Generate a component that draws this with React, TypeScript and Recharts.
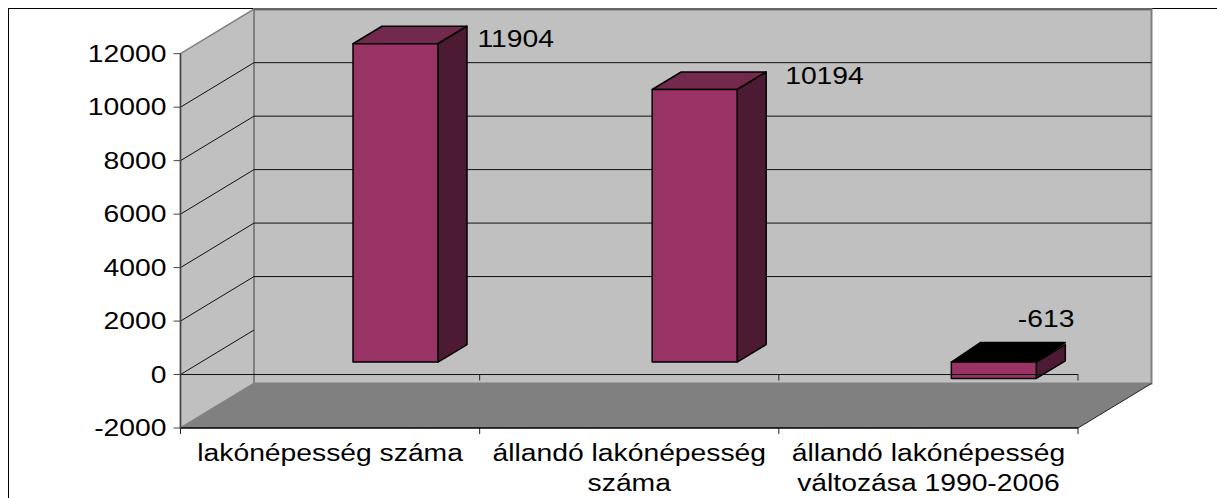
import { BarChart, Bar, XAxis, YAxis, ReferenceLine, LabelList, usePlotArea } from "recharts";

const categories = ["lakónépesség száma", "állandó lakónépesség\nszáma", "állandó lakónépesség\nváltozása 1990-2006"];
const values = [11904, 10194, -613];
const yTicks = [-2000, 0, 2000, 4000, 6000, 8000, 10000, 12000];
const gridValues = [2000, 4000, 6000, 8000, 10000];

const data = categories.map((name, i) => ({ name, value: values[i] }));

const Y_MIN = -2000;
const Y_MAX = 12000;
const FONT = "'Liberation Sans', Arial, sans-serif";
const FONT_SIZE = 23;
const STRETCH = 1.23; // the original picture is stretched sideways

// 3d offsets
const BACK_DX = 73.5;
const BACK_DY = -44.5;
const BAR_DX = 65.5;
const BAR_DY = -12.5;
const BAR_DEPTH_X = 29;
const BAR_DEPTH_Y = -17.5;

// data label nudges from the bar's own corner
const labelDx = [105, 113.5, 47];
const labelDy = [-9, -18, -48];

const pts = (list: number[][]) => list.map((p) => p.join(",")).join(" ");

function Walls() {
  const plot = usePlotArea();
  if (!plot) return null;
  const { x, y, width, height } = plot;
  const yOf = (v: number) => y + ((Y_MAX - v) / (Y_MAX - Y_MIN)) * height;
  const bottom = y + height;
  const right = x + width;
  return (
    <g>
      <polygon
        points={pts([[x, y], [x + BACK_DX, y + BACK_DY], [x + BACK_DX, bottom + BACK_DY], [x, bottom]])}
        fill="#c0c0c0"
        stroke="#808080"
        strokeWidth={1.5}
      />
      <rect x={x + BACK_DX} y={y + BACK_DY} width={width} height={height} fill="#c0c0c0" stroke="#808080" strokeWidth={2} />
      <polygon
        points={pts([[x, bottom], [x + BACK_DX, bottom + BACK_DY], [right + BACK_DX, bottom + BACK_DY], [right, bottom]])}
        fill="#808080"
      />
      <line x1={right} y1={bottom} x2={right + BACK_DX} y2={bottom + BACK_DY} stroke="#222" strokeWidth={1} />
      {[...gridValues, 0].map((v) => (
        <g key={v} stroke="#111" strokeWidth={1}>
          <line x1={x} y1={yOf(v)} x2={x + BACK_DX} y2={yOf(v) + BACK_DY} />
          {v !== 0 && <line x1={x + BACK_DX} y1={yOf(v) + BACK_DY} x2={right + BACK_DX} y2={yOf(v) + BACK_DY} />}
        </g>
      ))}
      <line x1={x + BACK_DX} y1={y + BACK_DY} x2={right + BACK_DX} y2={y + BACK_DY} stroke="#666" strokeWidth={2} />
    </g>
  );
}

function BoundaryTicks() {
  const plot = usePlotArea();
  if (!plot) return null;
  const { x, y, width, height } = plot;
  const zero = y + (Y_MAX / (Y_MAX - Y_MIN)) * height;
  const n = categories.length;
  return (
    <g stroke="#222" strokeWidth={1}>
      {Array.from({ length: n + 1 }, (_, i) => {
        const tx = x + (i * width) / n;
        return (
          <g key={i}>
            <line x1={tx} y1={zero} x2={tx} y2={zero + 6} />
            <line x1={tx} y1={y + height} x2={tx} y2={y + height + 6} />
          </g>
        );
      })}
    </g>
  );
}

function BarShape(props: any) {
  const { x, y, width, height, payload } = props;
  const left = x + BAR_DX;
  const right = left + width;
  const top = Math.min(y, y + height) + BAR_DY;
  const bottom = Math.max(y, y + height) + BAR_DY;
  const negative = payload.value < 0;
  const topBack = top + BAR_DEPTH_Y - (negative ? 2 : 0);
  return (
    <g stroke="#000" strokeWidth={1.5} strokeLinejoin="round">
      <polygon
        points={pts([[left, top], [left + BAR_DEPTH_X, topBack], [right + BAR_DEPTH_X, topBack], [right, top]])}
        fill={negative ? "#000" : "#73294d"}
      />
      <polygon
        points={pts([[right, top], [right + BAR_DEPTH_X, top + BAR_DEPTH_Y], [right + BAR_DEPTH_X, bottom + BAR_DEPTH_Y], [right, bottom]])}
        fill="#4d1a33"
      />
      <rect x={left} y={top} width={width} height={bottom - top} fill="#993366" />
    </g>
  );
}

function StretchedText({ x, y, anchor, children }: any) {
  return (
    <text
      transform={`translate(${x},${y}) scale(${STRETCH},1)`}
      textAnchor={anchor}
      fontFamily={FONT}
      fontSize={FONT_SIZE}
      fill="#000"
    >
      {children}
    </text>
  );
}

function YTick({ x, y, payload }: any) {
  return (
    <StretchedText x={x + 1} y={y + 8} anchor="end">
      {payload.value}
    </StretchedText>
  );
}

function XTick({ x, y, payload }: any) {
  const lines = String(payload.value).split("\n");
  return (
    <g>
      {lines.map((line, i) => (
        <StretchedText key={i} x={x} y={y + 25 + i * 30} anchor="middle">
          {line}
        </StretchedText>
      ))}
    </g>
  );
}

function ValueLabel({ x, y, width, height, value, index }: any) {
  const top = Math.min(y, y + height);
  return (
    <StretchedText x={x + width + labelDx[index]} y={top + labelDy[index]} anchor="start">
      {value}
    </StretchedText>
  );
}

export default function App() {
  return (
    <div style={{ position: "absolute", left: 0, top: 0, width: 1217, height: 498, overflow: "hidden", background: "#fff" }}>
      <div
        style={{
          position: "absolute",
          left: 8,
          top: 8,
          width: 1300,
          height: 600,
          borderLeft: "1.5px solid #000",
          borderTop: "1.5px solid #000",
        }}
      />
      <div style={{ position: "absolute", left: 0, top: 0 }}>
        <BarChart
          width={1217}
          height={498}
          data={data}
          margin={{ top: 53.7, right: 139, bottom: 0, left: 0 }}
          barSize={85}
        >
          <Walls />
          <XAxis
            dataKey="name"
            height={70}
            interval={0}
            tickLine={false}
            tick={<XTick />}
            axisLine={{ stroke: "#000", strokeWidth: 1.5 }}
          />
          <YAxis
            width={180.5}
            domain={[Y_MIN, Y_MAX]}
            ticks={yTicks}
            interval={0}
            tickSize={7}
            tickMargin={8}
            tick={<YTick />}
            tickLine={{ stroke: "#444" }}
            axisLine={{ stroke: "#444", strokeWidth: 1.5 }}
          />
          <Bar dataKey="value" isAnimationActive={false} shape={<BarShape />}>
            <LabelList dataKey="value" content={<ValueLabel />} />
          </Bar>
          <ReferenceLine y={0} stroke="#111" strokeWidth={1} />
          <BoundaryTicks />
        </BarChart>
      </div>
    </div>
  );
}
